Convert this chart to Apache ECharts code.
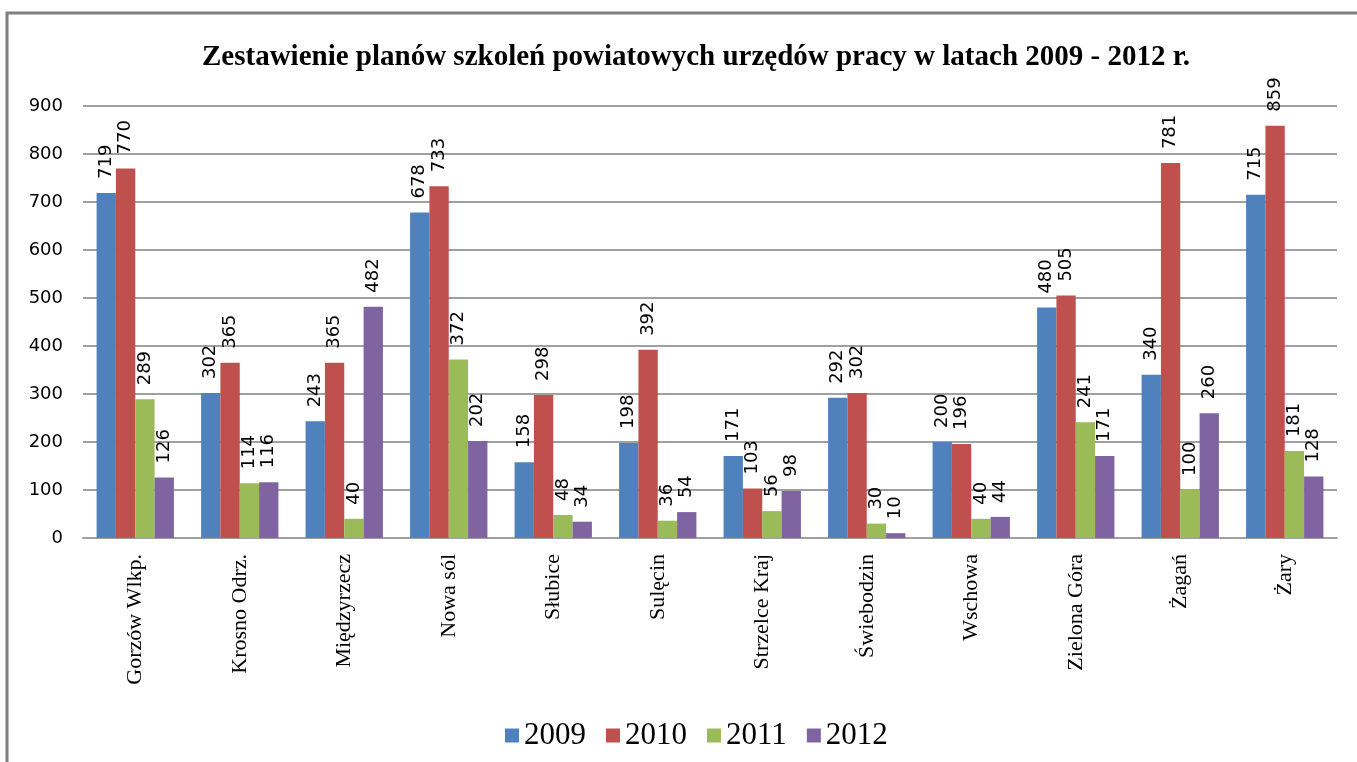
<!DOCTYPE html>
<html><head><meta charset="utf-8">
<script src="https://cdn.jsdelivr.net/npm/echarts@6/dist/echarts.min.js"></script>
<style>html,body{margin:0;padding:0;background:#fff}#c{width:1357px;height:762px}</style>
</head><body><div id="c"></div>
<script>
const categories = ['Gorzów Wlkp.','Krosno Odrz.','Międzyrzecz','Nowa sól','Słubice','Sulęcin','Strzelce Kraj','Świebodzin','Wschowa','Zielona Góra','Żagań','Żary'];
const s2009 = [719,302,243,678,158,198,171,292,200,480,340,715];
const s2010 = [770,365,365,733,298,392,103,302,196,505,781,859];
const s2011 = [289,114,40,372,48,36,56,30,40,241,100,181];
const s2012 = [126,116,482,202,34,54,98,10,44,171,260,128];
const yTicks = [0,100,200,300,400,500,600,700,800,900];
const seriesNames = ['2009','2010','2011','2012'];
const colors = ['#4F81BD','#C0504D','#9BBB59','#8064A2'];

const chart = echarts.init(document.getElementById('c'));
const lbl = {show:true, position:'top', rotate:90, align:'left', verticalAlign:'middle', distance:14,
  fontFamily:'DejaVu Sans', fontSize:18, color:'#000'};
chart.setOption({
  animation:false,
  color: colors,
  title:{text:'Zestawienie planów szkoleń powiatowych urzędów pracy w latach 2009 - 2012 r.', left:197, top:38,
    textStyle:{fontFamily:'Liberation Serif', fontWeight:'bold', fontSize:29, color:'#000'}},
  graphic:[{type:'rect', shape:{x:7,y:13,width:1360,height:760}, style:{fill:'none', stroke:'#7f7f7f', lineWidth:3}, silent:true}],
  legend:{data:seriesNames, bottom:6, left:500, itemWidth:14, itemHeight:14, itemGap:20, icon:'rect',
    textStyle:{fontFamily:'Liberation Serif', fontSize:31, color:'#000', padding:[0,0,0,0]}},
  grid:{left:83, right:20, top:106, bottom:224},
  xAxis:{type:'category', data:categories,
    axisLine:{lineStyle:{color:'#a0a0a0', width:2}}, axisTick:{show:false},
    axisLabel:{rotate:90, fontFamily:'Liberation Serif', fontSize:22, color:'#000', margin:16, interval:0}},
  yAxis:{type:'value', min:0, max:900, interval:100,
    axisLine:{show:false}, axisTick:{show:false},
    splitLine:{lineStyle:{color:'#a0a0a0', width:2}},
    axisLabel:{fontFamily:'DejaVu Sans', fontSize:18, color:'#000', margin:20,
      formatter: v => yTicks.includes(v) ? String(v) : ''}},
  series: [s2009,s2010,s2011,s2012].map((d,i)=>({name:seriesNames[i], type:'bar', data:d,
    barGap:'0%', barCategoryGap:'26%', label:lbl}))
});
</script></body></html>
